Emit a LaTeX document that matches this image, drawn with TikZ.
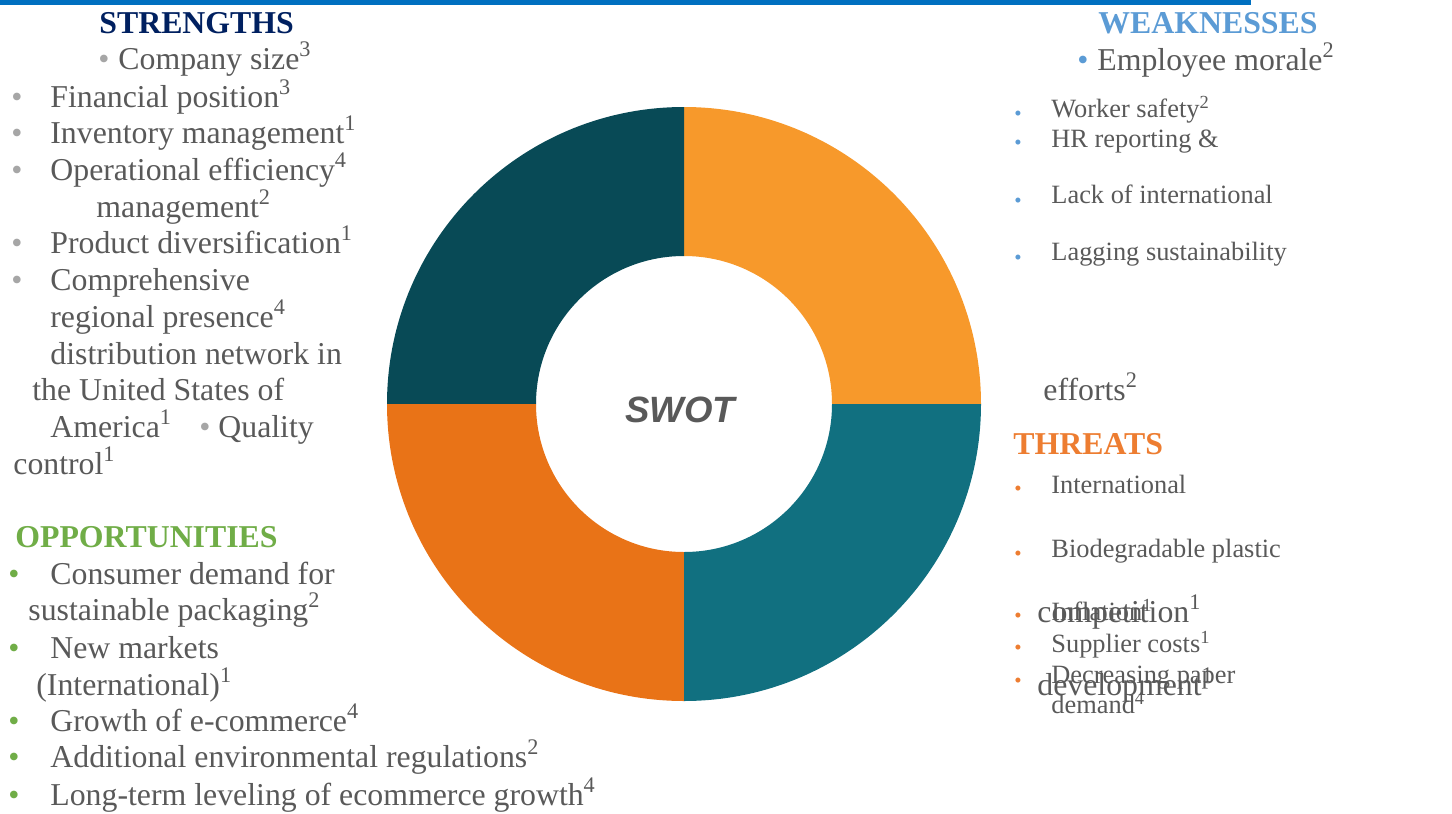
\documentclass[tikz,border=0pt]{standalone}
\usepackage{fontspec}
\setmainfont{Liberation Serif}
\newfontfamily\swotfont{Liberation Sans}
\definecolor{txtgrey}{RGB}{89, 89, 89}
\definecolor{bulgrey}{RGB}{166, 166, 166}
\definecolor{strnavy}{RGB}{0, 32, 96}
\definecolor{weakblue}{RGB}{91, 155, 213}
\definecolor{oppgreen}{RGB}{112, 173, 71}
\definecolor{thrtorange}{RGB}{237, 125, 49}
\definecolor{barblue}{RGB}{0, 112, 192}
\definecolor{ringteal}{RGB}{8, 74, 86}
\definecolor{ringamber}{RGB}{247, 153, 43}
\definecolor{ringorange}{RGB}{233, 115, 23}
\definecolor{ringsea}{RGB}{17, 112, 128}

\begin{document}
\begin{tikzpicture}[x=0.5pt, y=-0.5pt,
  item/.style={anchor=base west, inner sep=0pt, text=txtgrey, font=\fontsize{15.9}{19}\selectfont},
  smitem/.style={anchor=base west, inner sep=0pt, text=txtgrey, font=\fontsize{13.2}{16}\selectfont},
  head/.style={anchor=base west, inner sep=0pt, font=\fontsize{15.9}{19}\selectfont\bfseries},
  bul/.style={anchor=base, inner sep=0pt, font=\fontsize{15.9}{19}\selectfont},
  smbul/.style={anchor=base, inner sep=0pt, font=\fontsize{10.5}{12}\selectfont}]
  \useasboundingbox (0,0) rectangle (1452,814);
  \fill[barblue] (0,0) rectangle (1251,5);

  % Ring, one quarter per colour
  \begin{scope}[shift={(684,404)}]
    \foreach \a/\col in {0/ringamber, 90/ringteal, 180/ringorange, 270/ringsea} {
      \fill[\col] (\a:74pt) arc[start angle=\a, end angle=\a+90, radius=74pt]
        -- (\a+90:148.5pt) arc[start angle=\a+90, end angle=\a, radius=148.5pt] -- cycle;
    }
  \end{scope}
  \node[inner sep=0pt, text=txtgrey, font=\fontsize{18.3}{22}\selectfont\swotfont\bfseries\itshape] (swot) at (680,410) {SWOT};

  % Strengths
  \node[head, text=strnavy] (sHead) at (99,33) {STRENGTHS};
  \node[bul, text=bulgrey] (sB1) at (104,69) {•};
  \node[item] (s1) at (118,69) {Company size\textsuperscript{3}};
  \node[bul, text=bulgrey] (sB2) at (17,107) {•};
  \node[item] (s2) at (50,107) {Financial position\textsuperscript{3}};
  \node[bul, text=bulgrey] (sB3) at (17,143) {•};
  \node[item] (s3) at (50,143) {Inventory management\textsuperscript{1}};
  \node[bul, text=bulgrey] (sB4) at (17,180) {•};
  \node[item] (s4) at (50,180) {Operational efficiency\textsuperscript{4}};
  \node[item] (s5) at (96,217) {management\textsuperscript{2}};
  \node[bul, text=bulgrey] (sB5) at (17,253) {•};
  \node[item] (s6) at (50,253) {Product diversification\textsuperscript{1}};
  \node[bul, text=bulgrey] (sB6) at (17,290) {•};
  \node[item] (s7) at (50,290) {Comprehensive};
  \node[item] (s8) at (50,327) {regional presence\textsuperscript{4}};
  \node[item] (s9) at (50,364) {distribution network in};
  \node[item] (s10) at (32,400) {the United States of};
  \node[item] (s11) at (50,437) {America\textsuperscript{1}};
  \node[bul, text=bulgrey] (sB7) at (205,437) {•};
  \node[item] (s12) at (218,437) {Quality};
  \node[item] (s13) at (13,474) {control\textsuperscript{1}};

  % Weaknesses
  \node[head, text=weakblue] (wHead) at (1098,33) {WEAKNESSES};
  \node[bul, text=weakblue] (wB1) at (1083,70) {•};
  \node[item] (w1) at (1097,70) {Employee morale\textsuperscript{2}};
  \node[smbul, text=weakblue] (wB2) at (1018,120) {•};
  \node[smitem] (w2) at (1051,117) {Worker safety\textsuperscript{2}};
  \node[smbul, text=weakblue] (wB3) at (1018,149) {•};
  \node[smitem] (w3) at (1051,147) {HR reporting \&};
  \node[smbul, text=weakblue] (wB4) at (1018,207) {•};
  \node[smitem] (w4) at (1051,203) {Lack of international};
  \node[smbul, text=weakblue] (wB5) at (1018,264) {•};
  \node[smitem] (w5) at (1051,260) {Lagging sustainability};
  \node[item] (w6) at (1043,400) {efforts\textsuperscript{2}};

  % Opportunities
  \node[head, text=oppgreen] (oHead) at (15,547) {OPPORTUNITIES};
  \node[bul, text=oppgreen] (oB1) at (14,584) {•};
  \node[item] (o1) at (50,584) {Consumer demand for};
  \node[item] (o2) at (28,620) {sustainable packaging\textsuperscript{2}};
  \node[bul, text=oppgreen] (oB2) at (14,658) {•};
  \node[item] (o3) at (50,658) {New markets};
  \node[item] (o4) at (36,695) {(International)\textsuperscript{1}};
  \node[bul, text=oppgreen] (oB3) at (14,731) {•};
  \node[item] (o5) at (50,731) {Growth of e-commerce\textsuperscript{4}};
  \node[bul, text=oppgreen] (oB4) at (14,767) {•};
  \node[item] (o6) at (50,767) {Additional environmental regulations\textsuperscript{2}};
  \node[bul, text=oppgreen] (oB5) at (14,805) {•};
  \node[item] (o7) at (50,805) {Long-term leveling of ecommerce growth\textsuperscript{4}};

  % Threats
  \node[head, text=thrtorange] (tHead) at (1013,454) {THREATS};
  \node[smbul, text=thrtorange] (tB1) at (1018,495) {•};
  \node[smitem] (t1) at (1051,493) {International};
  \node[smbul, text=thrtorange] (tB2) at (1018,560) {•};
  \node[smitem] (t2) at (1051,557) {Biodegradable plastic};
  \node[smbul, text=thrtorange] (tB3) at (1018,622) {•};
  \node[smitem] (t3) at (1051,620) {Inflation\textsuperscript{1}};
  \node[item] (t4) at (1037,622) {competition\textsuperscript{1}};
  \node[smbul, text=thrtorange] (tB4) at (1018,654) {•};
  \node[smitem] (t5) at (1051,652) {Supplier costs\textsuperscript{1}};
  \node[smbul, text=thrtorange] (tB5) at (1018,687) {•};
  \node[smitem] (t6) at (1051,683) {Decreasing paper};
  \node[smitem] (t7) at (1051,713) {demand\textsuperscript{4}};
  \node[item] (t8) at (1037,695) {development\textsuperscript{1}};
\end{tikzpicture}
\end{document}
